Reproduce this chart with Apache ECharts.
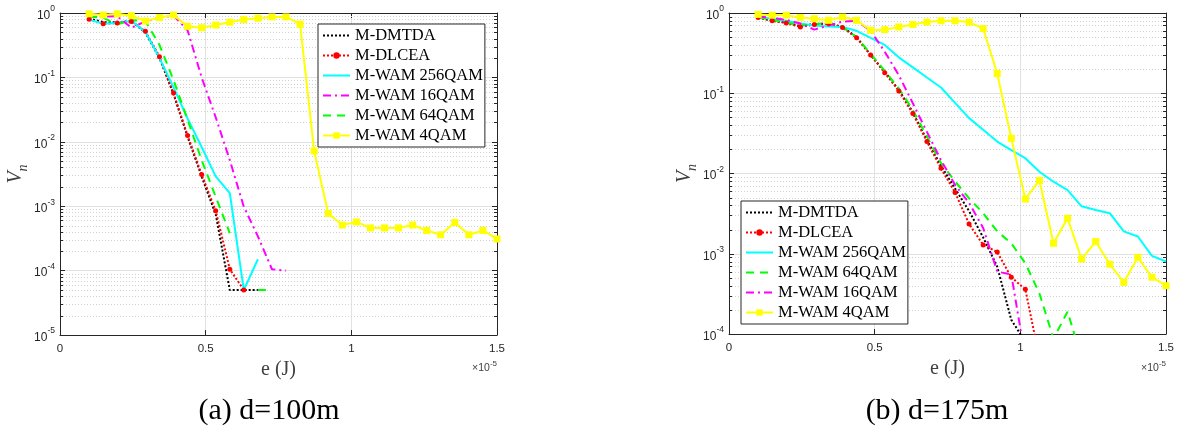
<!DOCTYPE html>
<html><head><meta charset="utf-8">
<script src="https://cdn.jsdelivr.net/npm/echarts@6/dist/echarts.min.js"></script>
<style>html,body{margin:0;padding:0;background:#fff}#c{width:1179px;height:427px}</style>
</head><body><div id="c"></div>
<script>
// energy e, in units of 1e-5 J
const E = [0.1, 0.1483, 0.1966, 0.2448, 0.2931, 0.3414, 0.3897, 0.4379, 0.4862, 0.5345,
  0.5828, 0.6310, 0.6793, 0.7276, 0.7759, 0.8241, 0.8724, 0.9207, 0.9690, 1.0172,
  1.0655, 1.1138, 1.1621, 1.2103, 1.2586, 1.3069, 1.3552, 1.4034, 1.4517, 1.5];
const X_TICKS = [0, 0.5, 1, 1.5];
const MINOR_MULT = [2, 3, 4, 5, 6, 7, 8, 9];
const DECADES_A = [-5, -4, -3, -2, -1];
const DECADES_B = [-4, -3, -2, -1];

const LEGEND_A = ['M-DMTDA', 'M-DLCEA', 'M-WAM 256QAM', 'M-WAM 16QAM', 'M-WAM 64QAM', 'M-WAM 4QAM'];
const LEGEND_B = ['M-DMTDA', 'M-DLCEA', 'M-WAM 256QAM', 'M-WAM 64QAM', 'M-WAM 16QAM', 'M-WAM 4QAM'];

// (a) d = 100 m
const A_DMTDA = [0.82, 0.72, 0.72, 0.75, 0.50, 0.20, 0.055, 0.012, 0.0029, 7.5e-4, 5e-5, 5e-5, 5e-5];
const A_DLCEA = [0.80, 0.68, 0.70, 0.74, 0.52, 0.21, 0.057, 0.0125, 0.0031, 8.5e-4, 1.05e-4, 5e-5];
const A_256 = [0.79, 0.68, 0.70, 0.75, 0.51, 0.20, 0.07, 0.023, 0.0083, 0.0029, 0.0016, 5e-5, 1.5e-4];
const A_16 = [0.87, 0.88, 0.89, 0.59, 0.74, 0.85, 0.91, 0.54, 0.10, 0.024, 0.0052, 9.8e-4, 3.4e-4, 1.05e-4, 1e-4];
const A_64 = [0.88, 0.84, 0.67, 0.77, 0.75, 0.32, 0.091, 0.022, 0.0052, 0.0014, 3.8e-4, null, 5e-5, 5e-5];
const A_4 = [0.97, 0.93, 0.97, 0.91, 0.75, 0.85, 0.93, 0.62, 0.59, 0.65, 0.72, 0.79, 0.83, 0.87, 0.87,
  0.67, 0.0072, 7.7e-4, 5.1e-4, 5.7e-4, 4.6e-4, 4.6e-4, 4.6e-4, 5.1e-4, 4.2e-4, 3.6e-4, 5.6e-4, 3.6e-4, 4.2e-4, 3.1e-4];

// (b) d = 175 m
const B_DMTDA = [0.88, 0.80, 0.76, 0.69, 0.73, 0.74, 0.67, 0.50, 0.30, 0.185, 0.11, 0.058, 0.026, 0.0125,
  0.0065, 0.0034, 0.0016, 6.9e-4, 1.5e-4, 8e-5];
const B_DLCEA = [0.88, 0.80, 0.75, 0.67, 0.72, 0.74, 0.66, 0.49, 0.30, 0.18, 0.107, 0.056, 0.025, 0.0116,
  0.0058, 0.00235, 0.00129, 0.00105, 5.1e-4, 3.6e-4, 5e-5];
const B_256 = [0.89, 0.85, 0.80, 0.74, 0.70, 0.68, 0.67, 0.60, 0.49, 0.40, 0.28, 0.21, 0.157, 0.118, 0.076,
  0.049, 0.035, 0.025, 0.0196, 0.0155, 0.0105, 0.0079, 0.0062, 0.0039, 0.0035, 0.0032, 0.0019, 0.00164, 9.4e-4, 8.0e-4];
const B_64 = [0.89, 0.82, 0.76, 0.70, 0.72, 0.76, 0.67, 0.50, 0.31, 0.19, 0.115, 0.062, 0.029, 0.0135, 0.008,
  0.0049, 0.0032, 0.0019, 0.00135, 7.6e-4, 3.2e-4, 8.8e-5, 1.9e-4, 5e-5];
const B_16 = [0.91, 0.87, 0.82, 0.74, 0.62, 0.70, 0.78, 0.80, 0.60, 0.33, 0.168, 0.075, 0.033, 0.0147, 0.0072,
  0.0043, 0.0021, 6.0e-4, 5.5e-4, 5e-5];
const B_4 = [0.96, 0.94, 0.94, 0.88, 0.85, 0.81, 0.89, 0.81, 0.61, 0.62, 0.67, 0.72, 0.77, 0.80, 0.80,
  0.77, 0.64, 0.176, 0.0274, 0.0048, 0.0082, 0.00135, 0.00277, 8.6e-4, 0.00142, 7.4e-4, 4.4e-4, 9.0e-4, 5.1e-4, 4.0e-4];

const AXC = '#262626';
const STYLES = {
  'M-DMTDA': { color: '#000000', type: [2, 2], symbol: 'none', size: 0 },
  'M-DLCEA': { color: '#ff0000', type: [2, 2], symbol: 'circle', size: 5 },
  'M-WAM 256QAM': { color: '#00ffff', type: 'solid', symbol: 'none', size: 0 },
  'M-WAM 16QAM': { color: '#ff00ff', type: [8, 4, 2, 4], symbol: 'none', size: 0 },
  'M-WAM 64QAM': { color: '#00ff00', type: [8, 6], symbol: 'none', size: 0 },
  'M-WAM 4QAM': { color: '#ffff00', type: 'solid', symbol: 'rect', size: 7 }
};

function pairs(vals) { return vals.map((v, i) => [E[i], v == null ? null : v]); }

function lineSeries(name, vals, gi) {
  const s = STYLES[name];
  return {
    type: 'line', name: name, xAxisIndex: gi * 2, yAxisIndex: gi * 2,
    data: pairs(vals), clip: true, connectNulls: false,
    symbol: s.symbol === 'none' ? 'circle' : s.symbol, symbolSize: s.size,
    showSymbol: s.symbol !== 'none', showAllSymbol: true,
    lineStyle: { color: s.color, width: 2, type: s.type, cap: 'butt' },
    itemStyle: { color: s.color, borderWidth: 0 },
    emphasis: { disabled: true }, animation: false, z: 3
  };
}

function minorSeries(gi, decades) {
  const data = [];
  decades.forEach(d => MINOR_MULT.forEach(m => data.push([0, m * Math.pow(10, d)])));
  return {
    type: 'custom', xAxisIndex: gi * 2, yAxisIndex: gi * 2, silent: true, z: 1, animation: false,
    data: data,
    renderItem: function (params, api) {
      const v = api.value(1);
      const p0 = api.coord([X_TICKS[0], v]);
      const p1 = api.coord([X_TICKS[X_TICKS.length - 1], v]);
      const y = Math.round(p0[1]) + 0.5;
      return {
        type: 'group', children: [
          { type: 'line', shape: { x1: p0[0], y1: y, x2: p1[0], y2: y }, style: { stroke: '#d2d2d2', lineWidth: 1, lineDash: [1, 2] } },
          { type: 'line', shape: { x1: p0[0], y1: y, x2: p0[0] + 3, y2: y }, style: { stroke: AXC, lineWidth: 1 } },
          { type: 'line', shape: { x1: p1[0] - 3, y1: y, x2: p1[0], y2: y }, style: { stroke: AXC, lineWidth: 1 } }
        ]
      };
    }
  };
}

function xAxes(gi) {
  const common = {
    type: 'value', gridIndex: gi, min: X_TICKS[0], max: X_TICKS[X_TICKS.length - 1], interval: 0.5,
    axisLine: { show: true, onZero: false, lineStyle: { color: AXC, width: 1 } },
    axisTick: { show: true, inside: true, length: 5, lineStyle: { color: AXC } }
  };
  return [
    Object.assign({}, common, {
      position: 'bottom',
      axisLabel: { color: AXC, fontFamily: 'Liberation Sans', fontSize: 11.5, margin: 8, formatter: v => String(v) },
      splitLine: { show: true, lineStyle: { color: '#e2e2e2', width: 1 } },
      name: 'e (J)', nameLocation: 'middle', nameGap: 21,
      nameTextStyle: { fontFamily: 'Liberation Serif', fontSize: 20, color: '#404040' }
    }),
    Object.assign({}, common, { position: 'top', axisLabel: { show: false }, splitLine: { show: false } })
  ];
}

function yAxes(gi, minV) {
  const common = {
    type: 'log', logBase: 10, gridIndex: gi, min: minV, max: 1,
    axisLine: { show: true, onZero: false, lineStyle: { color: AXC, width: 1 } },
    axisTick: { show: true, inside: true, length: 5, lineStyle: { color: AXC } },
    minorTick: { show: false }
  };
  return [
    Object.assign({}, common, {
      position: 'left',
      axisLabel: {
        margin: 5,
        formatter: v => '{b|10}{s|' + Math.round(Math.log10(v)) + '}',
        rich: {
          b: { fontFamily: 'Liberation Sans', fontSize: 12, color: AXC, verticalAlign: 'bottom', lineHeight: 17 },
          s: { fontFamily: 'Liberation Sans', fontSize: 8.5, color: AXC, verticalAlign: 'top', lineHeight: 17 }
        }
      },
      splitLine: { show: true, lineStyle: { color: '#e2e2e2', width: 1 } },
      name: '{v|V}{n|n}', nameLocation: 'middle', nameGap: 29, nameRotate: 90,
      nameTextStyle: {
        rich: {
          v: { fontFamily: 'Liberation Serif', fontStyle: 'italic', fontSize: 20, color: '#404040', verticalAlign: 'top', lineHeight: 24 },
          n: { fontFamily: 'Liberation Serif', fontStyle: 'italic', fontSize: 14, color: '#404040', verticalAlign: 'bottom', lineHeight: 24 }
        }
      }
    }),
    Object.assign({}, common, { position: 'right', axisLabel: { show: false }, splitLine: { show: false } })
  ];
}

function legend(names, left, top) {
  return {
    orient: 'vertical', left: left, top: top, selectedMode: false,
    data: names.map(n => STYLES[n].symbol === 'none'
      ? { name: n, itemStyle: { opacity: 0 } }
      : { name: n }),
    itemWidth: 27, itemHeight: 8, itemGap: 3, padding: [3, 2, 3, 4],
    borderColor: AXC, borderWidth: 1, backgroundColor: '#ffffff', borderRadius: 0,
    textStyle: { fontFamily: 'Liberation Serif', fontSize: 16.5, color: '#000000', lineHeight: 16 }
  };
}

const series = [];
[['M-DMTDA', A_DMTDA], ['M-DLCEA', A_DLCEA], ['M-WAM 256QAM', A_256], ['M-WAM 16QAM', A_16],
 ['M-WAM 64QAM', A_64], ['M-WAM 4QAM', A_4]].forEach(([n, v]) => series.push(lineSeries(n, v, 0)));
[['M-DMTDA', B_DMTDA], ['M-DLCEA', B_DLCEA], ['M-WAM 256QAM', B_256], ['M-WAM 64QAM', B_64],
 ['M-WAM 16QAM', B_16], ['M-WAM 4QAM', B_4]].forEach(([n, v]) => series.push(lineSeries(n, v, 1)));
series.push(minorSeries(0, DECADES_A));
series.push(minorSeries(1, DECADES_B));

const SUP = { a: { fontFamily: 'Liberation Sans', fontSize: 10.5, fill: '#404040', verticalAlign: 'bottom', lineHeight: 14 },
              s: { fontFamily: 'Liberation Sans', fontSize: 8, fill: '#404040', verticalAlign: 'top', lineHeight: 14 } };

const chart = echarts.init(document.getElementById('c'), null, { renderer: 'canvas' });
chart.setOption({
  animation: false,
  backgroundColor: '#ffffff',
  grid: [
    { left: 60, top: 13, width: 437, height: 322 },
    { left: 729, top: 13, width: 437, height: 321 }
  ],
  xAxis: xAxes(0).concat(xAxes(1)),
  yAxis: yAxes(0, 1e-5).concat(yAxes(1, 1e-4)),
  legend: [legend(LEGEND_A, 318, 24), legend(LEGEND_B, 741, 201)],
  series: series,
  graphic: [
    { type: 'text', x: 497, y: 367, style: { text: '{a|×10}{s|-5}', textAlign: 'right', textVerticalAlign: 'middle', rich: SUP } },
    { type: 'text', x: 1166, y: 367, style: { text: '{a|×10}{s|-5}', textAlign: 'right', textVerticalAlign: 'middle', rich: SUP } },
    { type: 'text', x: 269, y: 411, style: { text: '(a) d=100m', textAlign: 'center', textVerticalAlign: 'middle',
      fontFamily: 'Liberation Serif', fontSize: 30, fill: '#000000' } },
    { type: 'text', x: 937, y: 411, style: { text: '(b) d=175m', textAlign: 'center', textVerticalAlign: 'middle',
      fontFamily: 'Liberation Serif', fontSize: 30, fill: '#000000' } }
  ]
});
</script></body></html>
